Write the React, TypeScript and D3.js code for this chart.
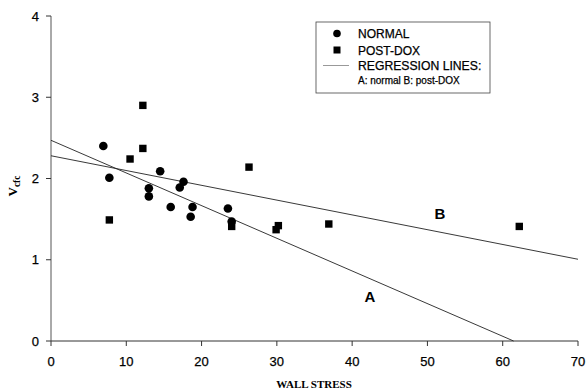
import React from "react";
import * as d3 from "d3";

const normalX = [6.95, 7.75, 14.5, 17.6, 17.1, 13.0, 13.0, 15.9, 18.8, 18.55, 23.5, 24.0];
const normalY = [2.40, 2.01, 2.09, 1.96, 1.89, 1.88, 1.78, 1.65, 1.65, 1.53, 1.63, 1.47];
const doxX = [12.2, 12.2, 10.5, 7.75, 26.3, 24.0, 30.2, 29.9, 36.9, 62.2];
const doxY = [2.90, 2.37, 2.24, 1.49, 2.14, 1.41, 1.42, 1.37, 1.44, 1.41];
const regA = { intercept: 2.47, slope: -0.0402 };
const regB = { intercept: 2.28, slope: -0.0182 };
const xTicks = [0, 10, 20, 30, 40, 50, 60, 70];
const yTicks = [0, 1, 2, 3, 4];

export default function App() {
  const W = 587, H = 391;
  const x = d3.scaleLinear().domain([0, 70]).range([51, 578]);
  const y = d3.scaleLinear().domain([0, 4]).range([341, 16]);
  const line = d3.line<[number, number]>().x(d => x(d[0])).y(d => y(d[1]));
  const aEnd = -regA.intercept / regA.slope;
  const lineA: [number, number][] = [[0, regA.intercept], [aEnd, 0]];
  const lineB: [number, number][] = [[0, regB.intercept], [70, regB.intercept + regB.slope * 70]];
  const sans = "Liberation Sans, Arial, sans-serif";
  const serif = "Liberation Serif, Times New Roman, serif";
  const heavy = { stroke: "#000", strokeWidth: 0.25 };
  return (
    <svg width={W} height={H} style={{ position: "absolute", left: 0, top: 0, background: "#fff" }}>
      <rect width={W} height={H} fill="#fff" />
      {/* axes */}
      <line x1={x(0)} x2={x(0)} y1={y(4)} y2={y(0)} stroke="#555" strokeWidth={1} />
      <line x1={x(0)} x2={x(70)} y1={y(0)} y2={y(0)} stroke="#333" strokeWidth={1} />
      {yTicks.map(t => (
        <g key={"y" + t}>
          <line x1={x(0) - 5} x2={x(0)} y1={y(t)} y2={y(t)} stroke="#333" />
          <text x={x(0) - 12} y={y(t)} dy="0.36em" textAnchor="end" fontFamily={sans} fontSize={13} {...heavy}>{t}</text>
        </g>
      ))}
      {xTicks.map(t => (
        <g key={"x" + t}>
          <line x1={x(t)} x2={x(t)} y1={y(0)} y2={y(0) + 5} stroke="#333" />
          <text x={x(t)} y={y(0) + 25} textAnchor="middle" fontFamily={sans} fontSize={13} {...heavy}>{t}</text>
        </g>
      ))}
      <text x={314} y={388} textAnchor="middle" fontFamily={serif} fontWeight="bold" fontSize={11}>WALL STRESS</text>
      <text transform="translate(17,186) rotate(-90)" textAnchor="middle" fontFamily={serif} fontWeight="bold" fontSize={13}>
        V<tspan fontSize={9.5} dy={3}>cfc</tspan>
      </text>
      {/* regression lines */}
      <path d={line(lineA) || ""} fill="none" stroke="#222" strokeWidth={0.9} />
      <path d={line(lineB) || ""} fill="none" stroke="#222" strokeWidth={0.9} />
      <text x={370} y={302} textAnchor="middle" fontFamily={sans} fontWeight="bold" fontSize={15}>A</text>
      <text x={440} y={219} textAnchor="middle" fontFamily={sans} fontWeight="bold" fontSize={15}>B</text>
      {/* points */}
      {normalX.map((v, i) => (
        <circle key={"n" + i} cx={x(v)} cy={y(normalY[i])} r={4.3} fill="#000" />
      ))}
      {doxX.map((v, i) => (
        <rect key={"d" + i} x={x(v) - 3.7} y={y(doxY[i]) - 3.7} width={7.4} height={7.4} fill="#000" />
      ))}
      {/* legend */}
      <rect x={316} y={22} width={174} height={71} fill="#fff" stroke="#444" strokeWidth={0.8} />
      <circle cx={337} cy={33.5} r={3.8} fill="#000" />
      <text x={358} y={38} fontFamily={sans} fontSize={12} {...heavy}>NORMAL</text>
      <rect x={333.5} y={46.5} width={7} height={7} fill="#000" />
      <text x={358} y={54.5} fontFamily={sans} fontSize={12} {...heavy}>POST-DOX</text>
      <line x1={323} x2={349} y1={65.5} y2={65.5} stroke="#999" strokeWidth={1} />
      <text x={358} y={70} fontFamily={sans} fontSize={12.2} {...heavy}>REGRESSION LINES:</text>
      <text x={358} y={84} fontFamily={sans} fontSize={10} {...heavy}>A: normal  B: post-DOX</text>
    </svg>
  );
}
